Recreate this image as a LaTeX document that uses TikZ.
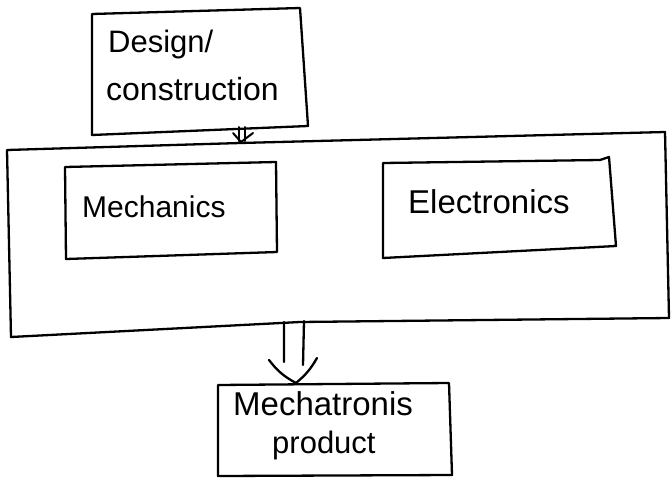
\documentclass[tikz,border=0pt]{standalone}
\usepackage{fontspec}
\setmainfont{Liberation Sans}
\begin{document}
\begin{tikzpicture}[x=1pt,y=-1pt,
  ink/.style={line width=2.3pt,line join=round,line cap=round},
  lbl/.style={inner sep=0pt,anchor=base west},
  fs/.style={font=\fontsize{#1}{#1}\selectfont}]
\useasboundingbox (0,0) rectangle (671,479);

% outer block holding both disciplines
\coordinate (big-nw) at (7,150);
\coordinate (big-ne) at (665,132);
\coordinate (big-se) at (669,318);
\coordinate (big-sw) at (11,337);
\draw[ink] (big-nw) -- (240,143) -- (big-ne) -- (big-se) -- (300,322) -- (big-sw) -- cycle;

% design / construction block
\coordinate (des-nw) at (92,14);
\coordinate (des-ne) at (300,8);
\coordinate (des-se) at (308,126);
\coordinate (des-sw) at (92,135);
\draw[ink] (des-nw) -- (des-ne) -- (des-se) -- (des-sw) -- cycle;
\node[lbl,fs=31] (design) at (108,52) {Design/};
\node[lbl,fs=32] (constr) at (106,100) {construction};

% mechanics block
\draw[ink] (65,167) -- (276,162) -- (277,252) -- (66,259) -- cycle;
\node[lbl,fs=30] (mech) at (82,217) {Mechanics};

% electronics block
\draw[ink] (383,163) -- (600,160) -- (609,157) -- (616,246) -- (383,258) -- cycle;
\node[lbl,fs=33] (elec) at (408,213) {Electronics};

% product block
\draw[ink] (218,385) -- (449,383) -- (452,475) -- (218,476) -- cycle;
\node[lbl,fs=33] (mprod) at (233,415) {Mechatronis};
\node[lbl,fs=31] (prod) at (272,453) {product};

% small double arrow: design -> outer block
\coordinate (a1-l) at (239,127);
\coordinate (a1-r) at (245,127);
\coordinate (a1-tip) at (241,142);
\draw[ink,line width=2pt] (a1-l) -- (239,141) (a1-r) -- (245,141);
\draw[ink,line width=2pt] (233,133) -- (a1-tip) -- (253,133);

% large double arrow: outer block -> product
\coordinate (a2-l) at (284,322);
\coordinate (a2-r) at (304,321);
\coordinate (a2-tip) at (296,383);
\draw[ink] (a2-l) -- (284,362) (a2-r) -- (303,365);
\draw[ink] (269,360) to[bend right=12] (a2-tip);
\draw[ink] (317,358) to[bend left=10] (a2-tip);
\end{tikzpicture}
\end{document}
